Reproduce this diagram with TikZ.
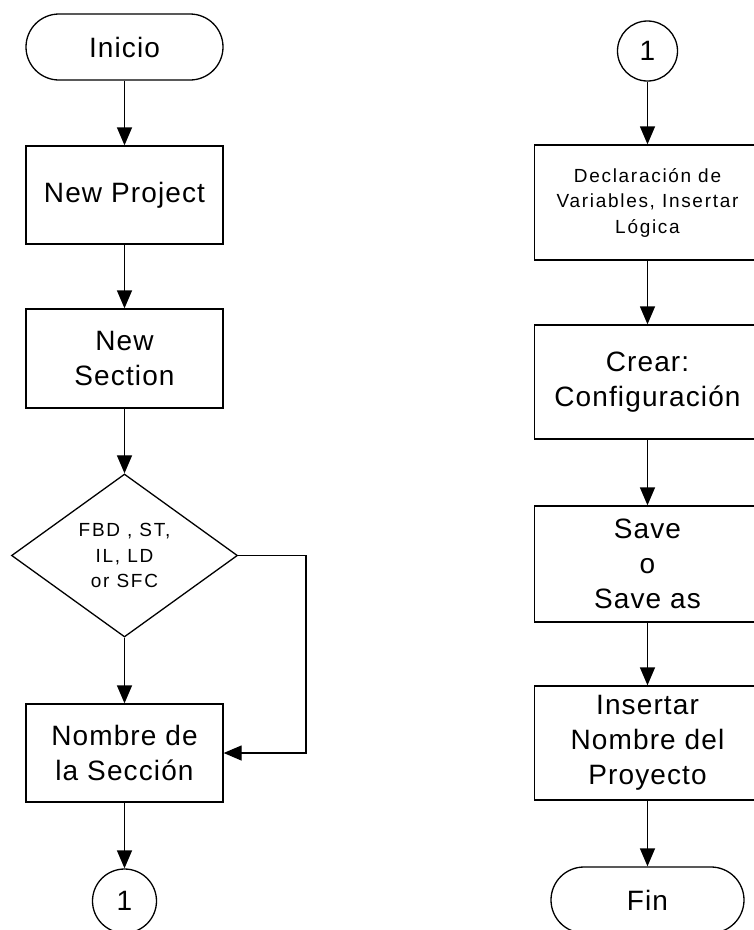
\documentclass[tikz,border=0pt]{standalone}
\usepackage{fontspec}
\usetikzlibrary{shapes.geometric,arrows.meta}
\newfontfamily\flowfont[LetterSpace=4]{Liberation Sans}
\newfontfamily\flowsmall[LetterSpace=9]{Liberation Sans}
\begin{document}
\begin{tikzpicture}[x=1pt,y=-1pt,
  line width=1.3pt,
  bigtext/.style={font=\flowfont\fontsize{28}{35}\selectfont, align=center},
  smalltext/.style={font=\flowsmall\fontsize{19}{25.5}\selectfont, align=center},
  terminal/.style={draw, rounded corners=33pt, minimum width=197pt, minimum height=66pt, inner sep=0pt, bigtext},
  procbox/.style={draw, rectangle, minimum width=197pt, inner sep=0pt, bigtext},
  rightbox/.style={draw, rectangle, minimum width=226pt, inner sep=0pt},
  connector/.style={draw, circle, minimum size=64pt, inner sep=0pt, bigtext},
  decision/.style={draw, diamond, aspect=1.386, minimum width=226pt, minimum height=163pt, inner sep=0pt, smalltext},
  arr/.style={-{Triangle[length=18pt,width=15pt]}}
]
\useasboundingbox (0,0) rectangle (754,930);
\clip (0,0) rectangle (754,930);

% left column
\node[terminal] (inicio) at (124.5,47) {Inicio};
\node[procbox, minimum height=98pt] (proj) at (124.5,195) {New Project};
\node[procbox, minimum height=99pt] (sect) at (124.5,358.5) {New\\Section};
\node[decision] (dec) at (124.5,555.5) {FBD , ST,\\IL, LD\\or SFC};
\node[procbox, minimum height=98pt] (nombre) at (124.5,753) {Nombre de\\la Sección};
\node[connector] (c1) at (124.5,901) {1};
\coordinate (loop) at (306,555.5);

% right column
\node[connector, minimum size=60pt] (c2) at (647.5,51) {1};
\node[rightbox, minimum height=115pt, smalltext] (decl) at (647.5,202.5) {Declaración de\\Variables, Insertar\\Lógica};
\node[rightbox, minimum height=114pt, bigtext] (crear) at (647.5,382) {Crear:\\Configuración};
\node[rightbox, minimum height=116pt, bigtext] (save) at (647.5,564) {Save\\o\\Save as};
\node[rightbox, minimum height=114pt, bigtext] (ins) at (647.5,743) {Insertar\\Nombre del\\Proyecto};
\node[terminal, minimum width=193pt] (fin) at (647.5,900) {Fin};

% connectors
\draw[arr] (inicio) -- (proj);
\draw[arr] (proj) -- (sect);
\draw[arr] (sect) -- (dec);
\draw[arr] (dec) -- (nombre);
\draw[arr] (dec.east) -- (loop) |- (nombre.east);
\draw[arr] (nombre) -- (c1);

\draw[arr] (c2) -- (decl);
\draw[arr] (decl) -- (crear);
\draw[arr] (crear) -- (save);
\draw[arr] (save) -- (ins);
\draw[arr] (ins) -- (fin);
\end{tikzpicture}
\end{document}
